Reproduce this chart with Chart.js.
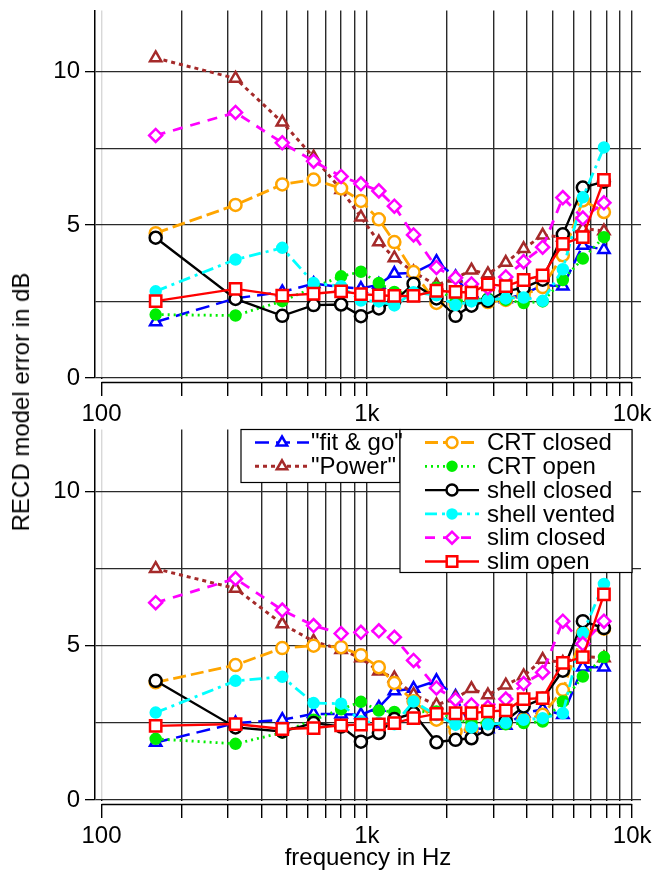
<!DOCTYPE html>
<html>
<head>
<meta charset="utf-8">
<script src="https://cdn.jsdelivr.net/npm/chart.js@4.4.1/dist/chart.umd.min.js"></script>
<style>
  body { margin: 0; background: #fff; }
  #wrap { position: relative; width: 655px; height: 873px; }
  #chartTop { position: absolute; left: 0; top: 0; }
  #chartBottom { position: absolute; left: 0; top: 419px; }
  #ylab {
    position: absolute; left: 21px; top: 402px;
    transform: translate(-50%, -50%) rotate(-90deg);
    font: 24px "Liberation Sans", Arial, sans-serif; white-space: nowrap; color: #000;
  }
</style>
</head>
<body>
<div id="wrap">
  <canvas id="chartTop" width="655" height="428"></canvas>
  <canvas id="chartBottom" width="655" height="454"></canvas>
  <div id="ylab">RECD model error in dB</div>
</div>
<script>
// frequencies (Hz)
var freqs = [160, 320, 480, 630, 800, 950, 1110, 1270, 1500, 1830, 2160, 2480, 2860, 3340, 3900, 4600, 5480, 6520, 7830];
var names = ['"fit & go"', '"Power"', 'CRT closed', 'CRT open', 'shell closed', 'shell vented', 'slim closed', 'slim open'];
var xTickLabels = { 100: '100', 1000: '1k', 10000: '10k' };
var yTickLabels = { 0: '0', 5: '5', 10: '10' };

// upper panel, dB
var fitGoTop       = [1.83, 2.60, 2.81, 3.08, 2.97, 2.92, 3.05, 3.41, 3.43, 3.80, 3.30, 2.65, 2.60, 2.58, 2.74, 3.03, 3.00, 4.33, 4.19];
var powerTop       = [10.45, 9.78, 8.35, 7.21, 6.15, 5.25, 4.44, 3.92, 3.46, 3.03, 3.26, 3.52, 3.40, 3.77, 4.22, 4.66, 4.60, 4.88, 4.80];
var crtClosedTop   = [4.73, 5.65, 6.32, 6.48, 6.19, 5.78, 5.18, 4.44, 3.46, 2.45, 2.42, 2.50, 2.48, 2.55, 2.72, 2.97, 4.01, 5.80, 5.42];
var crtOpenTop     = [2.07, 2.04, 2.51, 2.95, 3.32, 3.47, 3.10, 2.81, 2.75, 2.95, 2.50, 2.55, 2.60, 2.55, 2.45, 2.50, 3.20, 3.90, 4.60];
var shellClosedTop = [4.58, 2.58, 2.03, 2.38, 2.40, 2.02, 2.27, 2.51, 3.08, 2.60, 2.03, 2.36, 2.52, 2.84, 2.94, 3.21, 4.69, 6.22, 6.41];
var shellVentedTop = [2.83, 3.87, 4.25, 3.10, 3.00, 2.53, 2.50, 2.37, 2.80, 2.70, 2.38, 2.50, 2.55, 2.60, 2.63, 2.52, 3.55, 5.90, 7.53];
var slimClosedTop  = [7.92, 8.67, 7.68, 7.08, 6.58, 6.34, 6.11, 5.61, 4.67, 3.61, 3.27, 3.07, 2.95, 3.30, 3.80, 4.27, 5.89, 5.22, 5.72];
var slimOpenTop    = [2.51, 2.91, 2.69, 2.75, 2.83, 2.74, 2.70, 2.68, 2.68, 2.85, 2.81, 2.79, 3.06, 3.00, 3.20, 3.35, 4.38, 4.60, 6.47];

// lower panel, dB
var fitGoBot       = [1.86, 2.49, 2.60, 2.79, 2.78, 2.76, 3.00, 3.53, 3.61, 3.86, 3.35, 2.32, 2.30, 2.41, 2.81, 2.94, 2.76, 4.30, 4.30];
var powerBot       = [7.49, 6.85, 5.70, 5.14, 4.87, 4.60, 4.17, 3.95, 3.41, 3.08, 3.30, 3.60, 3.40, 3.72, 4.02, 4.55, 4.45, 4.65, 4.60];
var crtClosedBot   = [3.81, 4.37, 4.92, 5.00, 4.95, 4.69, 4.30, 3.79, 3.20, 2.60, 2.22, 2.30, 2.46, 2.50, 2.60, 2.76, 3.57, 5.41, 5.55];
var crtOpenBot     = [1.98, 1.82, 2.18, 2.60, 2.94, 3.18, 2.90, 2.85, 2.85, 2.87, 2.60, 2.50, 2.50, 2.45, 2.49, 2.54, 3.19, 4.00, 4.63];
var shellClosedBot = [3.86, 2.35, 2.22, 2.49, 2.38, 1.89, 2.17, 2.62, 2.81, 1.87, 1.95, 2.00, 2.30, 2.57, 3.03, 3.28, 4.19, 5.79, 5.57];
var shellVentedBot = [2.83, 3.86, 3.99, 3.14, 3.12, 2.55, 2.50, 2.45, 3.19, 2.75, 2.44, 2.35, 2.45, 2.50, 2.60, 2.65, 2.81, 5.41, 7.00];
var slimClosedBot  = [6.39, 7.17, 6.15, 5.65, 5.39, 5.43, 5.48, 5.27, 4.52, 3.63, 3.25, 3.08, 3.00, 3.27, 3.77, 4.13, 5.79, 5.06, 5.79];
var slimOpenBot    = [2.40, 2.46, 2.30, 2.33, 2.42, 2.44, 2.45, 2.49, 2.65, 2.79, 2.81, 2.81, 2.87, 2.90, 3.27, 3.30, 4.44, 4.63, 6.66];

var seriesTop = [fitGoTop, powerTop, crtClosedTop, crtOpenTop, shellClosedTop, shellVentedTop, slimClosedTop, slimOpenTop];
var seriesBot = [fitGoBot, powerBot, crtClosedBot, crtOpenBot, shellClosedBot, shellVentedBot, slimClosedBot, slimOpenBot];

var gridFreqs = [100, 200, 300, 400, 500, 600, 700, 800, 900, 1000, 2000, 3000, 4000, 5000, 6000, 7000, 8000, 9000, 10000];
var gridDb = [0, 2.5, 5, 7.5, 10];

var styles = [
    { color: '#0000ff', dash: [14, 7],        point: 'triangle', radius: 6.5, fill: '#ffffff', width: 2.5 },
    { color: '#a52a2a', dash: [4, 4],         point: 'triangle', radius: 6.5, fill: '#ffffff', width: 3 },
    { color: '#ffa500', dash: [13, 5],        point: 'circle',   radius: 6,   fill: '#ffffff', width: 2.8 },
    { color: '#00ee00', dash: [2, 4],         point: 'circle',   radius: 5,   fill: '#00ee00', width: 2.8 },
    { color: '#000000', dash: [],             point: 'circle',   radius: 6,   fill: '#ffffff', width: 2.4 },
    { color: '#00ffff', dash: [12, 5, 3, 5],  point: 'circle',   radius: 5,   fill: '#00ffff', width: 2.8 },
    { color: '#ff00ff', dash: [10, 8],        point: 'rectRot',  radius: 6.5, fill: '#ffffff', width: 2.8 },
    { color: '#ff0000', dash: [],             point: 'rect',     radius: 8,   fill: '#ffffff', width: 2.4 }
];

var font = '"Liberation Sans", Arial, Helvetica, sans-serif';
Chart.defaults.font.family = font;
Chart.defaults.color = '#000';

var axisLine = {
    id: 'axisLine',
    afterDraw: function (chart) {
        var ctx = chart.ctx;
        var x = chart.scales.x;
        var y = chart.chartArea.bottom + 4.5;
        ctx.save();
        // gap between plot and offset axis
        ctx.fillStyle = '#fff';
        ctx.fillRect(chart.chartArea.left + 1, chart.chartArea.bottom + 1, chart.chartArea.right - chart.chartArea.left, 3);
        ctx.strokeStyle = '#000';
        ctx.lineWidth = 1.5;
        ctx.beginPath();
        ctx.moveTo(x.getPixelForValue(100), y);
        ctx.lineTo(x.getPixelForValue(10000), y);
        ctx.stroke();
        ctx.restore();
    }
};

function legendRows(ctx, sets, y0, lineL, lineR, textX) {
    sets.forEach(function (ds, i) {
        var y = y0 + i * 23.8;
        ctx.save();
        ctx.strokeStyle = ds.borderColor;
        ctx.lineWidth = ds.borderWidth;
        ctx.setLineDash(ds.borderDash);
        ctx.beginPath();
        ctx.moveTo(lineL, y);
        ctx.lineTo(lineR, y);
        ctx.stroke();
        ctx.setLineDash([]);
        ctx.fillStyle = ds.pointBackgroundColor;
        ctx.strokeStyle = ds.borderColor;
        ctx.lineWidth = ds.pointBorderWidth;
        Chart.helpers.drawPoint(ctx, { pointStyle: ds.pointStyle, radius: ds.pointRadius - 0.5, borderWidth: ds.pointBorderWidth, rotation: 0 }, (lineL + lineR) / 2, y);
        ctx.fillStyle = '#000';
        ctx.font = '24px ' + font;
        ctx.textBaseline = 'middle';
        ctx.fillText(ds.label, textX, y + 1);
        ctx.restore();
    });
}

var boxLegend = {
    id: 'boxLegend',
    afterDraw: function (chart) {
        var ctx = chart.ctx;
        var sets = chart.data.datasets;
        var top = chart.chartArea.top;
        ctx.save();
        ctx.fillStyle = '#fff';
        ctx.strokeStyle = '#000';
        ctx.lineWidth = 1.2;
        ctx.fillRect(241, top, 159, 53);
        ctx.strokeRect(241, top, 159, 53);
        ctx.fillRect(400, top, 232, 143);
        ctx.strokeRect(400, top, 232, 143);
        ctx.restore();
        legendRows(ctx, sets.slice(0, 2), top + 13, 255, 309, 311);
        legendRows(ctx, sets.slice(2), top + 13, 425, 479, 487);
    }
};

function makeChart(canvasId, series, isBottom) {
    var datasets = series.map(function (vals, i) {
        var s = styles[i];
        return {
            label: names[i],
            data: freqs.map(function (f, j) { return { x: f, y: vals[j] }; }),
            borderColor: s.color,
            borderWidth: s.width,
            borderDash: s.dash,
            pointStyle: s.point,
            pointRadius: s.radius,
            pointBorderWidth: 2.5,
            pointBorderColor: s.color,
            pointBackgroundColor: s.fill,
            tension: 0,
            order: series.length - i
        };
    });
    var config = {
        type: 'line',
        data: { datasets: datasets },
        options: {
            responsive: false,
            animation: false,
            devicePixelRatio: 1,
            layout: { padding: { top: isBottom ? 0 : 10, right: 14, left: 0, bottom: 0 } },
            plugins: { legend: { display: false }, tooltip: { enabled: false } },
            scales: {
                x: {
                    type: 'logarithmic',
                    min: 94.5,
                    max: 10800,
                    afterBuildTicks: function (scale) {
                        scale.ticks = gridFreqs.map(function (v) { return { value: v }; });
                    },
                    afterFit: function (scale) {
                        scale.height = isBottom ? 73 : 50;
                        scale.paddingLeft = 0;
                        scale.paddingRight = 0;
                    },
                    border: { display: false },
                    grid: {
                        color: function (c) { return c.tick && c.tick.value === 100 ? '#d8d8d8' : '#2a2a2a'; },
                        tickColor: '#000',
                        tickLength: 18,
                        lineWidth: 1.4
                    },
                    ticks: {
                        autoSkip: false,
                        maxRotation: 0,
                        padding: 4,
                        font: { size: 24 },
                        color: '#000',
                        callback: function (v) { return xTickLabels[v] || ''; }
                    },
                    title: {
                        display: isBottom,
                        text: 'frequency in Hz',
                        font: { size: 24 },
                        color: '#000',
                        padding: 0
                    }
                },
                y: {
                    min: 0,
                    max: 12,
                    afterBuildTicks: function (scale) {
                        scale.ticks = gridDb.map(function (v) { return { value: v }; });
                    },
                    afterFit: function (scale) {
                        scale.width = 95;
                        scale.paddingTop = 0;
                        scale.paddingBottom = 0;
                    },
                    border: { display: true, color: '#000', width: 1.5 },
                    grid: {
                        color: '#2a2a2a',
                        lineWidth: 1.3,
                        tickLength: 10,
                        tickColor: function (c) { return c.tick && yTickLabels[c.tick.value] ? '#000' : 'rgba(0,0,0,0)'; }
                    },
                    ticks: {
                        padding: 5,
                        font: { size: 24 },
                        color: '#000',
                        callback: function (v) { return yTickLabels[v] || ''; }
                    }
                }
            }
        },
        plugins: isBottom ? [axisLine, boxLegend] : [axisLine]
    };
    return new Chart(document.getElementById(canvasId).getContext('2d'), config);
}

var chartTop = makeChart('chartTop', seriesTop, false);
var chartBottom = makeChart('chartBottom', seriesBot, true);
</script>
</body>
</html>
